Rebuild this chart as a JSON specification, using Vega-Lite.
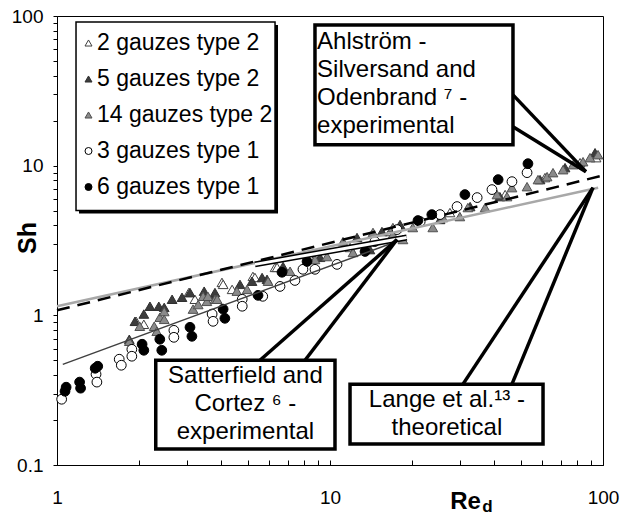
{
  "$schema": "https://vega.github.io/schema/vega-lite/v6.json",
  "width": 546,
  "height": 449,
  "autosize": {"type": "none"},
  "padding": {"left": 57, "top": 16, "right": 17, "bottom": 50},
  "background": "white",
  "config": {
    "view": {"stroke": "black", "strokeWidth": 1},
    "font": "Liberation Sans"
  },
  "datasets": {
    "points": [
      {"series": "2 gauzes type 2", "Re": 1.95, "Sh": 0.912},
      {"series": "2 gauzes type 2", "Re": 2.08, "Sh": 0.871},
      {"series": "2 gauzes type 2", "Re": 3.04, "Sh": 1.42},
      {"series": "2 gauzes type 2", "Re": 3.2, "Sh": 1.28},
      {"series": "2 gauzes type 2", "Re": 4.02, "Sh": 1.66},
      {"series": "2 gauzes type 2", "Re": 4.06, "Sh": 1.61},
      {"series": "2 gauzes type 2", "Re": 4.38, "Sh": 1.49},
      {"series": "2 gauzes type 2", "Re": 5.22, "Sh": 1.82},
      {"series": "2 gauzes type 2", "Re": 5.31, "Sh": 1.79},
      {"series": "2 gauzes type 2", "Re": 6.29, "Sh": 2.09},
      {"series": "2 gauzes type 2", "Re": 6.4, "Sh": 2.09},
      {"series": "2 gauzes type 2", "Re": 8.45, "Sh": 2.44},
      {"series": "2 gauzes type 2", "Re": 11.84, "Sh": 2.84},
      {"series": "2 gauzes type 2", "Re": 16.6, "Sh": 3.63},
      {"series": "2 gauzes type 2", "Re": 27.5, "Sh": 4.86},
      {"series": "2 gauzes type 2", "Re": 43.8, "Sh": 6.41},
      {"series": "2 gauzes type 2", "Re": 61.3, "Sh": 8.32},
      {"series": "2 gauzes type 2", "Re": 82.4, "Sh": 10.47},
      {"series": "2 gauzes type 2", "Re": 94.3, "Sh": 11.31},
      {"series": "5 gauzes type 2", "Re": 1.84, "Sh": 0.692},
      {"series": "5 gauzes type 2", "Re": 1.93, "Sh": 0.912},
      {"series": "5 gauzes type 2", "Re": 2.08, "Sh": 1.02},
      {"series": "5 gauzes type 2", "Re": 2.19, "Sh": 1.15},
      {"series": "5 gauzes type 2", "Re": 2.36, "Sh": 1.15},
      {"series": "5 gauzes type 2", "Re": 2.47, "Sh": 1.13},
      {"series": "5 gauzes type 2", "Re": 2.64, "Sh": 1.28},
      {"series": "5 gauzes type 2", "Re": 2.87, "Sh": 1.32},
      {"series": "5 gauzes type 2", "Re": 3.07, "Sh": 1.42},
      {"series": "5 gauzes type 2", "Re": 3.46, "Sh": 1.45},
      {"series": "5 gauzes type 2", "Re": 3.76, "Sh": 1.34},
      {"series": "5 gauzes type 2", "Re": 3.79, "Sh": 1.42},
      {"series": "5 gauzes type 2", "Re": 4.68, "Sh": 1.61},
      {"series": "5 gauzes type 2", "Re": 5.18, "Sh": 1.69},
      {"series": "5 gauzes type 2", "Re": 5.64, "Sh": 1.79},
      {"series": "5 gauzes type 2", "Re": 5.88, "Sh": 1.74},
      {"series": "5 gauzes type 2", "Re": 6.73, "Sh": 2.12},
      {"series": "5 gauzes type 2", "Re": 9.19, "Sh": 2.44},
      {"series": "5 gauzes type 2", "Re": 12.56, "Sh": 3.31},
      {"series": "5 gauzes type 2", "Re": 14.0, "Sh": 2.75},
      {"series": "5 gauzes type 2", "Re": 15.5, "Sh": 3.63},
      {"series": "5 gauzes type 2", "Re": 18.05, "Sh": 4.04},
      {"series": "5 gauzes type 2", "Re": 25.3, "Sh": 4.37},
      {"series": "5 gauzes type 2", "Re": 32.6, "Sh": 5.33},
      {"series": "5 gauzes type 2", "Re": 41.9, "Sh": 6.21},
      {"series": "5 gauzes type 2", "Re": 58.8, "Sh": 8.07},
      {"series": "5 gauzes type 2", "Re": 72.6, "Sh": 9.7},
      {"series": "5 gauzes type 2", "Re": 93.5, "Sh": 12.2},
      {"series": "14 gauzes type 2", "Re": 1.84, "Sh": 0.671},
      {"series": "14 gauzes type 2", "Re": 2.01, "Sh": 0.845},
      {"series": "14 gauzes type 2", "Re": 2.27, "Sh": 0.845},
      {"series": "14 gauzes type 2", "Re": 2.32, "Sh": 0.782},
      {"series": "14 gauzes type 2", "Re": 2.38, "Sh": 0.97},
      {"series": "14 gauzes type 2", "Re": 2.47, "Sh": 1.06},
      {"series": "14 gauzes type 2", "Re": 2.47, "Sh": 0.94},
      {"series": "14 gauzes type 2", "Re": 3.15, "Sh": 1.1},
      {"series": "14 gauzes type 2", "Re": 3.29, "Sh": 1.18},
      {"series": "14 gauzes type 2", "Re": 3.43, "Sh": 1.34},
      {"series": "14 gauzes type 2", "Re": 3.54, "Sh": 1.24},
      {"series": "14 gauzes type 2", "Re": 3.57, "Sh": 1.34},
      {"series": "14 gauzes type 2", "Re": 3.79, "Sh": 1.28},
      {"series": "14 gauzes type 2", "Re": 3.86, "Sh": 1.28},
      {"series": "14 gauzes type 2", "Re": 4.56, "Sh": 1.45},
      {"series": "14 gauzes type 2", "Re": 4.97, "Sh": 1.49},
      {"series": "14 gauzes type 2", "Re": 5.93, "Sh": 1.69},
      {"series": "14 gauzes type 2", "Re": 7.14, "Sh": 1.97},
      {"series": "14 gauzes type 2", "Re": 8.81, "Sh": 2.36},
      {"series": "14 gauzes type 2", "Re": 9.75, "Sh": 2.47},
      {"series": "14 gauzes type 2", "Re": 11.16, "Sh": 3.11},
      {"series": "14 gauzes type 2", "Re": 12.14, "Sh": 2.63},
      {"series": "14 gauzes type 2", "Re": 14.37, "Sh": 3.58},
      {"series": "14 gauzes type 2", "Re": 17.0, "Sh": 3.86},
      {"series": "14 gauzes type 2", "Re": 17.0, "Sh": 3.47},
      {"series": "14 gauzes type 2", "Re": 18.5, "Sh": 3.21},
      {"series": "14 gauzes type 2", "Re": 20.1, "Sh": 3.86},
      {"series": "14 gauzes type 2", "Re": 23.8, "Sh": 3.86},
      {"series": "14 gauzes type 2", "Re": 25.9, "Sh": 4.5},
      {"series": "14 gauzes type 2", "Re": 29.9, "Sh": 4.57},
      {"series": "14 gauzes type 2", "Re": 32.0, "Sh": 5.25},
      {"series": "14 gauzes type 2", "Re": 37.0, "Sh": 5.25},
      {"series": "14 gauzes type 2", "Re": 40.9, "Sh": 6.41},
      {"series": "14 gauzes type 2", "Re": 44.5, "Sh": 6.21},
      {"series": "14 gauzes type 2", "Re": 46.4, "Sh": 7.13},
      {"series": "14 gauzes type 2", "Re": 52.7, "Sh": 7.24},
      {"series": "14 gauzes type 2", "Re": 57.8, "Sh": 8.07},
      {"series": "14 gauzes type 2", "Re": 62.4, "Sh": 8.45},
      {"series": "14 gauzes type 2", "Re": 65.6, "Sh": 8.98},
      {"series": "14 gauzes type 2", "Re": 71.4, "Sh": 9.4},
      {"series": "14 gauzes type 2", "Re": 77.7, "Sh": 10.15},
      {"series": "14 gauzes type 2", "Re": 84.5, "Sh": 10.63},
      {"series": "14 gauzes type 2", "Re": 89.6, "Sh": 11.31},
      {"series": "14 gauzes type 2", "Re": 95.9, "Sh": 11.84},
      {"series": "3 gauzes type 1", "Re": 1.04, "Sh": 0.275},
      {"series": "3 gauzes type 1", "Re": 1.39, "Sh": 0.404},
      {"series": "3 gauzes type 1", "Re": 1.4, "Sh": 0.358},
      {"series": "3 gauzes type 1", "Re": 1.69, "Sh": 0.509},
      {"series": "3 gauzes type 1", "Re": 1.72, "Sh": 0.464},
      {"series": "3 gauzes type 1", "Re": 1.88, "Sh": 0.593},
      {"series": "3 gauzes type 1", "Re": 1.88, "Sh": 0.533},
      {"series": "3 gauzes type 1", "Re": 2.68, "Sh": 0.794},
      {"series": "3 gauzes type 1", "Re": 2.68, "Sh": 0.713},
      {"series": "3 gauzes type 1", "Re": 3.7, "Sh": 1.02},
      {"series": "3 gauzes type 1", "Re": 3.73, "Sh": 0.912},
      {"series": "3 gauzes type 1", "Re": 4.77, "Sh": 1.28},
      {"series": "3 gauzes type 1", "Re": 4.77, "Sh": 1.15},
      {"series": "3 gauzes type 1", "Re": 5.67, "Sh": 1.34},
      {"series": "3 gauzes type 1", "Re": 6.56, "Sh": 1.56},
      {"series": "3 gauzes type 1", "Re": 7.44, "Sh": 1.71},
      {"series": "3 gauzes type 1", "Re": 7.96, "Sh": 2.03},
      {"series": "3 gauzes type 1", "Re": 8.81, "Sh": 2.03},
      {"series": "3 gauzes type 1", "Re": 10.61, "Sh": 2.19},
      {"series": "3 gauzes type 1", "Re": 14.6, "Sh": 3.11},
      {"series": "3 gauzes type 1", "Re": 17.6, "Sh": 3.74},
      {"series": "3 gauzes type 1", "Re": 21.4, "Sh": 4.23},
      {"series": "3 gauzes type 1", "Re": 25.3, "Sh": 4.71},
      {"series": "3 gauzes type 1", "Re": 29.2, "Sh": 5.33},
      {"series": "3 gauzes type 1", "Re": 34.6, "Sh": 6.12},
      {"series": "3 gauzes type 1", "Re": 39.2, "Sh": 6.92},
      {"series": "3 gauzes type 1", "Re": 46.4, "Sh": 7.82},
      {"series": "3 gauzes type 1", "Re": 52.7, "Sh": 8.98},
      {"series": "6 gauzes type 1", "Re": 1.07, "Sh": 0.311},
      {"series": "6 gauzes type 1", "Re": 1.08, "Sh": 0.331},
      {"series": "6 gauzes type 1", "Re": 1.21, "Sh": 0.358},
      {"series": "6 gauzes type 1", "Re": 1.22, "Sh": 0.326},
      {"series": "6 gauzes type 1", "Re": 1.38, "Sh": 0.443},
      {"series": "6 gauzes type 1", "Re": 1.41, "Sh": 0.457},
      {"series": "6 gauzes type 1", "Re": 2.05, "Sh": 0.641},
      {"series": "6 gauzes type 1", "Re": 2.08, "Sh": 0.584},
      {"series": "6 gauzes type 1", "Re": 2.38, "Sh": 0.692},
      {"series": "6 gauzes type 1", "Re": 2.42, "Sh": 0.584},
      {"series": "6 gauzes type 1", "Re": 3.07, "Sh": 0.832},
      {"series": "6 gauzes type 1", "Re": 3.12, "Sh": 0.724},
      {"series": "6 gauzes type 1", "Re": 4.06, "Sh": 1.1},
      {"series": "6 gauzes type 1", "Re": 4.12, "Sh": 0.955},
      {"series": "6 gauzes type 1", "Re": 5.45, "Sh": 1.36},
      {"series": "6 gauzes type 1", "Re": 6.67, "Sh": 1.94},
      {"series": "6 gauzes type 1", "Re": 8.24, "Sh": 2.29},
      {"series": "6 gauzes type 1", "Re": 13.44, "Sh": 2.67},
      {"series": "6 gauzes type 1", "Re": 21.0, "Sh": 4.3},
      {"series": "6 gauzes type 1", "Re": 23.6, "Sh": 4.71},
      {"series": "6 gauzes type 1", "Re": 31.2, "Sh": 6.41},
      {"series": "6 gauzes type 1", "Re": 41.3, "Sh": 8.07},
      {"series": "6 gauzes type 1", "Re": 53.1, "Sh": 10.31}
    ],
    "segs": [
      {"kind": "thin", "Re": 1.05, "Sh": 0.47, "Re2": 19.1, "Sh2": 3.3},
      {"kind": "gray", "Re": 1, "Sh": 1.15, "Re2": 96, "Sh2": 7.13},
      {"kind": "dashed", "Re": 1, "Sh": 1.08, "Re2": 100, "Sh2": 8.6},
      {"kind": "satt", "Re": 5.31, "Sh": 2.19, "Re2": 19.1, "Sh2": 3.31},
      {"kind": "pointer", "Re": 46.8, "Sh": 29.7, "Re2": 86.6, "Sh2": 9.12},
      {"kind": "pointer", "Re": 46.8, "Sh": 18.2, "Re2": 86.6, "Sh2": 9.12},
      {"kind": "pointer", "Re": 5.54, "Sh": 0.501, "Re2": 17.6, "Sh2": 3.21},
      {"kind": "pointer", "Re": 8.1, "Sh": 0.501, "Re2": 17.6, "Sh2": 3.21},
      {"kind": "pointer", "Re": 30.7, "Sh": 0.347, "Re2": 91.9, "Sh2": 7.13},
      {"kind": "pointer", "Re": 46.4, "Sh": 0.347, "Re2": 91.9, "Sh2": 7.13}
    ],
    "boxes": [
      {"kind": "shadow", "Re": 1.204, "Sh": 87.1, "Re2": 6.45, "Sh2": 4.79},
      {"kind": "legendbox", "Re": 1.174, "Sh": 91.2, "Re2": 6.29, "Sh2": 5.01},
      {"kind": "box", "Re": 8.81, "Sh": 87.1, "Re2": 46.8, "Sh2": 13.8},
      {"kind": "box", "Re": 2.3, "Sh": 0.501, "Re2": 10.43, "Sh2": 0.128},
      {"kind": "box", "Re": 11.84, "Sh": 0.347, "Re2": 60.3, "Sh2": 0.138}
    ],
    "texts": [
      {"kind": "left", "Re": 8.97, "Sh": 67.1, "label": "Ahlström -\nSilversand and\nOdenbrand ⁷ -\nexperimental"},
      {"kind": "center", "Re": 4.9, "Sh": 0.392, "label": "Satterfield and\nCortez ⁶ -\nexperimental"},
      {"kind": "center", "Re": 26.8, "Sh": 0.271, "label": "Lange et al.¹³ -\ntheoretical"},
      {"kind": "sub", "Re": 36.1, "Sh": 0.0486, "label": "d"}
    ]
  },
  "encoding": {
    "x": {
      "field": "Re",
      "type": "quantitative",
      "scale": {"type": "log", "domain": [1, 100], "nice": false},
      "axis": {
        "values": [1, 2, 3, 4, 5, 6, 7, 8, 9, 10, 20, 30, 40, 50, 60, 70, 80, 90, 100],
        "format": "~g",
        "labelExpr": "datum.value == 1 || datum.value == 10 || datum.value == 100 ? datum.label : ''",
        "labelFlush": false,
        "labelOverlap": false,
        "grid": false,
        "tickSize": -5,
        "tickColor": "black",
        "domainColor": "black",
        "labelPadding": 28,
        "labelFontSize": 19,
        "labelColor": "black",
        "labelFont": "Liberation Sans",
        "title": "Re",
        "titleFont": "Liberation Sans",
        "titleFontSize": 24,
        "titleFontWeight": "bold",
        "titleColor": "black",
        "titleX": 408,
        "titleY": 43,
        "titleBaseline": "alphabetic",
        "titleAlign": "center"
      }
    },
    "y": {
      "field": "Sh",
      "type": "quantitative",
      "scale": {"type": "log", "domain": [0.1, 100], "nice": false},
      "axis": {
        "values": [0.1, 0.2, 0.3, 0.4, 0.5, 0.6, 0.7, 0.8, 0.9, 1, 2, 3, 4, 5, 6, 7, 8, 9, 10, 20, 30, 40, 50, 60, 70, 80, 90, 100],
        "format": "~g",
        "labelExpr": "datum.value == 0.1 || datum.value == 1 || datum.value == 10 || datum.value == 100 ? datum.label : ''",
        "labelOverlap": false,
        "labelFlush": false,
        "grid": false,
        "tickSize": 4,
        "tickColor": "black",
        "domainColor": "black",
        "labelPadding": 10,
        "labelFontSize": 19,
        "labelColor": "black",
        "labelFont": "Liberation Sans",
        "title": "Sh",
        "titleFont": "Liberation Sans",
        "titleFontSize": 25,
        "titleFontWeight": "bold",
        "titleColor": "black",
        "titleAngle": 270,
        "titleX": -30,
        "titleY": 221.5,
        "titleBaseline": "middle",
        "titleAlign": "center"
      }
    }
  },
  "layer": [
    {
      "data": {"name": "boxes"},
      "transform": [{"filter": "datum.kind == 'shadow'"}],
      "mark": {"type": "rect", "fill": "black"},
      "encoding": {"x2": {"field": "Re2"}, "y2": {"field": "Sh2"}}
    },
    {
      "data": {"name": "boxes"},
      "transform": [{"filter": "datum.kind == 'legendbox'"}],
      "mark": {"type": "rect", "fill": "white", "stroke": "black", "strokeWidth": 1.5},
      "encoding": {"x2": {"field": "Re2"}, "y2": {"field": "Sh2"}}
    },
    {
      "data": {"name": "points"},
      "mark": {"type": "point", "filled": true, "opacity": 1, "strokeWidth": 1, "size": 95},
      "encoding": {
        "shape": {
          "field": "series", "type": "nominal",
          "scale": {"domain": ["2 gauzes type 2", "5 gauzes type 2", "14 gauzes type 2", "3 gauzes type 1", "6 gauzes type 1"], "range": ["triangle-up", "triangle-up", "triangle-up", "circle", "circle"]},
          "legend": {"title": null, "orient": "none", "legendX": 20, "legendY": 15.5, "padding": 0, "rowPadding": 12, "labelOffset": -3, "labelFontSize": 23, "labelFont": "Liberation Sans", "labelColor": "black", "labelLimit": 400, "symbolSize": 49, "symbolStrokeWidth": 1, "zindex": 1}
        },
        "fill": {
          "field": "series", "type": "nominal",
          "scale": {"domain": ["2 gauzes type 2", "5 gauzes type 2", "14 gauzes type 2", "3 gauzes type 1", "6 gauzes type 1"], "range": ["white", "#3c3c3c", "#8a8a8a", "white", "black"]},
          "legend": {"title": null, "orient": "none", "legendX": 20, "legendY": 15.5, "padding": 0, "rowPadding": 12, "labelOffset": -3, "labelFontSize": 23, "labelFont": "Liberation Sans", "labelColor": "black", "labelLimit": 400, "symbolSize": 49, "symbolStrokeWidth": 1, "zindex": 1}
        },
        "stroke": {
          "field": "series", "type": "nominal",
          "scale": {"domain": ["2 gauzes type 2", "5 gauzes type 2", "14 gauzes type 2", "3 gauzes type 1", "6 gauzes type 1"], "range": ["#404040", "#303030", "#505050", "black", "black"]},
          "legend": {"title": null, "orient": "none", "legendX": 20, "legendY": 15.5, "padding": 0, "rowPadding": 12, "labelOffset": -3, "labelFontSize": 23, "labelFont": "Liberation Sans", "labelColor": "black", "labelLimit": 400, "symbolSize": 49, "symbolStrokeWidth": 1, "zindex": 1}
        }
      }
    },
    {
      "data": {"name": "segs"},
      "transform": [{"filter": "datum.kind == 'thin'"}],
      "mark": {"type": "rule", "color": "#404040", "strokeWidth": 1.5},
      "encoding": {"x2": {"field": "Re2"}, "y2": {"field": "Sh2"}}
    },
    {
      "data": {"name": "segs"},
      "transform": [{"filter": "datum.kind == 'gray'"}],
      "mark": {"type": "rule", "color": "#a8a8a8", "strokeWidth": 2.5},
      "encoding": {"x2": {"field": "Re2"}, "y2": {"field": "Sh2"}}
    },
    {
      "data": {"name": "segs"},
      "transform": [{"filter": "datum.kind == 'dashed'"}],
      "mark": {"type": "rule", "color": "black", "strokeWidth": 2.5, "strokeDash": [13, 8]},
      "encoding": {"x2": {"field": "Re2"}, "y2": {"field": "Sh2"}}
    },
    {
      "data": {"name": "segs"},
      "transform": [{"filter": "datum.kind == 'satt'"}],
      "mark": {"type": "rule", "color": "black", "strokeWidth": 6},
      "encoding": {"x2": {"field": "Re2"}, "y2": {"field": "Sh2"}}
    },
    {
      "data": {"name": "segs"},
      "transform": [{"filter": "datum.kind == 'satt'"}],
      "mark": {"type": "rule", "color": "white", "strokeWidth": 3},
      "encoding": {"x2": {"field": "Re2"}, "y2": {"field": "Sh2"}}
    },
    {
      "data": {"name": "segs"},
      "transform": [{"filter": "datum.kind == 'pointer'"}],
      "mark": {"type": "rule", "color": "black", "strokeWidth": 3.5},
      "encoding": {"x2": {"field": "Re2"}, "y2": {"field": "Sh2"}}
    },
    {
      "data": {"name": "boxes"},
      "transform": [{"filter": "datum.kind == 'box'"}],
      "mark": {"type": "rect", "fill": "white", "stroke": "black", "strokeWidth": 3.5},
      "encoding": {"x2": {"field": "Re2"}, "y2": {"field": "Sh2"}}
    },
    {
      "data": {"name": "texts"},
      "transform": [{"filter": "datum.kind == 'left'"}],
      "mark": {"type": "text", "align": "left", "baseline": "middle", "lineBreak": "\n", "lineHeight": 28, "fontSize": 24, "font": "Liberation Sans", "color": "black"},
      "encoding": {"text": {"field": "label"}}
    },
    {
      "data": {"name": "texts"},
      "transform": [{"filter": "datum.kind == 'center'"}],
      "mark": {"type": "text", "align": "center", "baseline": "middle", "lineBreak": "\n", "lineHeight": 28, "fontSize": 24, "font": "Liberation Sans", "color": "black"},
      "encoding": {"text": {"field": "label"}}
    },
    {
      "data": {"name": "texts"},
      "transform": [{"filter": "datum.kind == 'sub'"}],
      "mark": {"type": "text", "align": "left", "baseline": "alphabetic", "fontSize": 17, "fontWeight": "bold", "font": "Liberation Sans", "color": "black"},
      "encoding": {"text": {"field": "label"}}
    }
  ]
}
